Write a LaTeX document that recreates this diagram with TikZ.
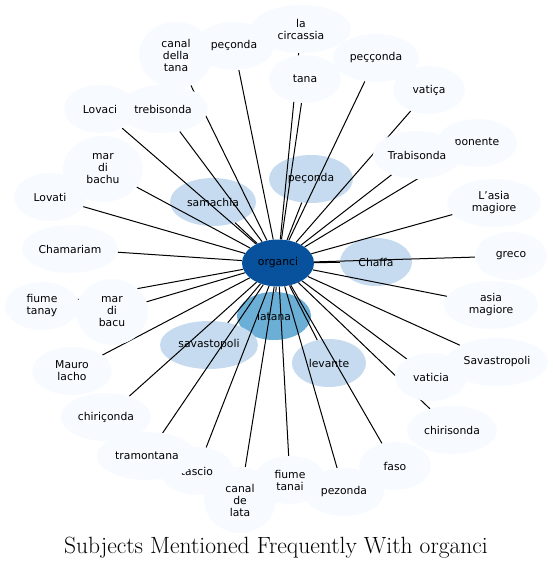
\documentclass[tikz,border=0pt]{standalone}
\usepackage{fontspec}
\setsansfont{DejaVu Sans}
\usepackage{xcolor}
\usetikzlibrary{shapes.geometric}
\definecolor{hubblue}{HTML}{08519C}
\definecolor{deepblue}{HTML}{6BAED6}
\definecolor{midblue}{HTML}{C6DBEF}
\definecolor{liteblue}{HTML}{F7FBFF}
\pgfdeclarelayer{under}
\pgfdeclarelayer{links}
\pgfsetlayers{under,links,main}

\begin{document}
\begin{tikzpicture}[x=1pt, y=-1pt,
  blob/.style={ellipse, inner sep=0pt, align=center,
               font=\sffamily\fontsize{10.8}{12}\selectfont},
  hub/.style={blob, fill=hubblue},
  deep/.style={blob, fill=deepblue},
  mid/.style={blob, fill=midblue},
  lite/.style={blob, fill=liteblue},
  sz/.style 2 args={minimum width=#1pt, minimum height=#2pt},
  link/.style={draw=black, line width=1pt}
]
\useasboundingbox (0,0) rectangle (552,570);

% inner ring, under the links
\begin{pgfonlayer}{under}
\node[deep, sz={74}{48}] (latana) at (274,316) {latana};
\node[mid, sz={72}{48}] (chaffa) at (376,262) {Chaffa};
\node[mid, sz={84}{48}] (pecondaM) at (311,179) {peçonda};
\node[mid, sz={86}{48}] (samachia) at (213,202) {samachia};
\node[mid, sz={98}{48}] (savastopoli) at (209,345) {savastopoli};
\node[mid, sz={74}{48}] (levante) at (329,363) {levante};
\end{pgfonlayer}

\node[hub, sz={72}{47}] (organci) at (278,263) {organci};

% outer ring, over the links
\node[lite, sz={100}{48}] (circassia) at (301,29) {la\\circassia};
\node[lite, sz={72}{48}] (tana) at (305,79) {tana};
\node[lite, sz={86}{48}] (pecconda) at (376,58) {peççonda};
\node[lite, sz={72}{48}] (vatica) at (429,90) {vatiça};
\node[lite, sz={80}{48}] (ponente) at (477,143) {ponente};
\node[lite, sz={88}{48}] (trabisonda) at (417,155) {Trabisonda};
\node[lite, sz={94}{48}] (lasia) at (494,203) {L'asia\\magiore};
\node[lite, sz={72}{48}] (greco) at (511,256) {greco};
\node[lite, sz={94}{48}] (asia) at (491,305) {asia\\magiore};
\node[lite, sz={102}{48}] (savastropoli) at (497,362) {Savastropoli};
\node[lite, sz={72}{48}] (vaticia) at (431,377) {vaticia};
\node[lite, sz={90}{48}] (chirisonda) at (452,430) {chirisonda};
\node[lite, sz={72}{48}] (faso) at (395,466) {faso};
\node[lite, sz={72}{66}] (canaldelata) at (240,500) {canal\\de\\lata};
\node[lite, sz={72}{48}] (fiumetanai) at (290,480) {fiume\\tanai};
\node[lite, sz={80}{48}] (pezonda) at (344,492) {pezonda};
\node[lite, sz={74}{48}] (tascio) at (197,471) {tascio};
\node[lite, sz={100}{48}] (tramontana) at (147,456) {tramontana};
\node[lite, sz={90}{48}] (chiriconda) at (106,417) {chiriçonda};
\node[lite, sz={80}{48}] (mauro) at (72,371) {Mauro\\lacho};
\node[lite, sz={74}{48}] (fiumetanay) at (42,306) {fiume\\tanay};
\node[lite, sz={72}{66}] (mardibacu) at (112,312) {mar\\di\\bacu};
\node[lite, sz={96}{48}] (chamariam) at (70,249) {Chamariam};
\node[lite, sz={72}{48}] (lovati) at (50,197) {Lovati};
\node[lite, sz={80}{66}] (mardibachu) at (103,169) {mar\\di\\bachu};
\node[lite, sz={72}{48}] (lovaci) at (100,109) {Lovaci};
\node[lite, sz={90}{48}] (trebisonda) at (163,109) {trebisonda};
\node[lite, sz={74}{66}] (canaldellatana) at (176,55) {canal\\della\\tana};
\node[lite, sz={80}{48}] (pecondaT) at (234,46) {peçonda};

\node[font=\rmfamily\fontsize{23.5}{28}\selectfont] (title) at (276,548)
  {Subjects Mentioned Frequently With organci};

% links from the hub
\begin{pgfonlayer}{links}
\foreach \t in {latana, chaffa, pecondaM, samachia, savastopoli, levante,
  circassia, tana, pecconda, vatica, ponente, trabisonda, lasia, greco,
  asia, savastropoli, vaticia, chirisonda, faso, pezonda, canaldelata,
  fiumetanai, tascio, tramontana, chiriconda, mauro, fiumetanay,
  mardibacu, chamariam, lovati, mardibachu, lovaci, trebisonda,
  canaldellatana, pecondaT}
  \draw[link] (organci) -- (\t);
\end{pgfonlayer}
\end{tikzpicture}
\end{document}
